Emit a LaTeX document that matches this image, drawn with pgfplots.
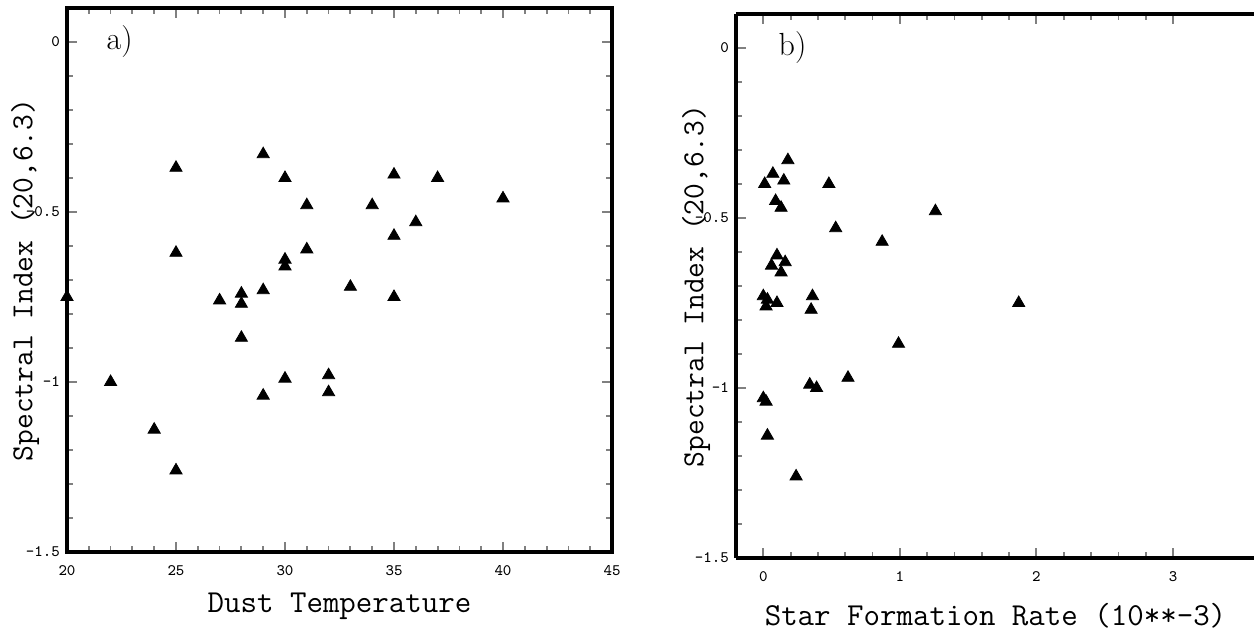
\documentclass[border=0pt]{standalone}
\usepackage{pgfplots}
\pgfplotsset{compat=1.18}
\begin{document}
\begin{tikzpicture}[x=1pt,y=1pt]
\useasboundingbox (-33.5,-40.5) rectangle (593.5,276);
\pgfplotsset{
  panel/.style={
    scale only axis, height=272pt,
    ymin=-1.5, ymax=0.1,
    ytick={-1.5,-1,-0.5,0}, yticklabels={-1.5,-1,-0.5,0},
    minor y tick num=4,
    tick align=inside,
    major tick length=5pt, minor tick length=3pt,
    axis line style={line width=1.6pt},
    major tick style={line width=1pt},
    minor tick style={line width=0.9pt},
    tick label style={font=\ttfamily\fontsize{8}{9}\selectfont},
    xticklabel style={yshift=-3pt},
    label style={font=\ttfamily\fontsize{16}{18}\selectfont},
    ylabel={Spectral Index (20,6.3)},
    ylabel style={at={(axis description cs:-0.077,0.5)},anchor=center,
      font=\ttfamily\fontsize{15.3}{18}\selectfont},
    xlabel style={at={(axis description cs:0.5,0)},anchor=center,yshift=-27pt},
  },
  pts/.style={only marks, mark=triangle*, mark size=3.5pt, black},
}
\begin{axis}[panel, width=272.5pt,
  xmin=20, xmax=45, xtick={20,25,30,35,40,45},
  xticklabels={20,25,30,35,40,45}, minor x tick num=4,
  xlabel={Dust Temperature}]
  \addplot[pts] coordinates {
    (20,-0.75) (22,-1.00) (24,-1.14) (25,-0.37) (25,-0.62) (25,-1.26)
    (27,-0.76) (28,-0.74) (28,-0.77) (28,-0.87) (29,-0.33) (29,-0.73)
    (29,-1.04) (30,-0.40) (30,-0.64) (30,-0.66) (30,-0.99) (31,-0.48)
    (31,-0.61) (32,-0.98) (32,-1.03) (33,-0.72) (34,-0.48) (35,-0.39)
    (35,-0.57) (35,-0.75) (36,-0.53) (37,-0.40) (40,-0.46)};
  \node[anchor=west,font=\fontsize{16}{18}\selectfont,inner sep=0pt] at (axis cs:21.8,0) {a)};
\end{axis}
\begin{axis}[panel, width=259.5pt, at={(334.5pt,-3pt)}, anchor=south west,
  axis x line*=box, axis y line*=left,
  xmin=-0.2, xmax=3.6, xtick={0,1,2,3},
  xticklabels={0,1,2,3}, minor x tick num=4,
  xlabel={Star Formation Rate (10**-3)},
  xlabel style={yshift=-2pt}]
  \addplot[pts] coordinates {
    (0.18,-0.33) (0.07,-0.37) (0.01,-0.40) (0.15,-0.39) (0.48,-0.40)
    (0.09,-0.45) (0.13,-0.47) (1.26,-0.48) (0.53,-0.53) (0.87,-0.57)
    (0.10,-0.61) (0.06,-0.64) (0.16,-0.63) (0.13,-0.66) (0.00,-0.73)
    (0.03,-0.74) (0.10,-0.75) (0.02,-0.76) (0.36,-0.73) (0.35,-0.77)
    (1.87,-0.75) (0.99,-0.87) (0.62,-0.97) (0.34,-0.99) (0.39,-1.00)
    (0.00,-1.03) (0.02,-1.04) (0.03,-1.14) (0.24,-1.26)};
  \node[anchor=west,font=\fontsize{16}{18}\selectfont,inner sep=0pt] at (axis cs:0.11,0) {b)};
\end{axis}
\end{tikzpicture}
\end{document}
